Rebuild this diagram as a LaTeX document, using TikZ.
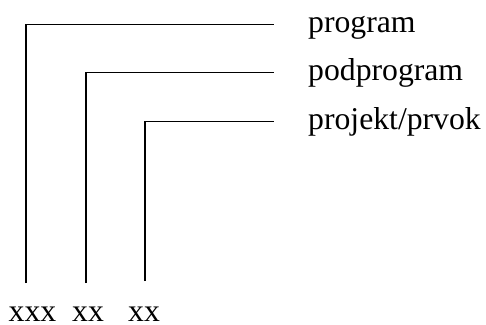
\documentclass[tikz,border=0pt]{standalone}
\usepackage{fontspec}
\setmainfont{Liberation Serif}
\tikzset {
    level line/.style = {line width = 1.3pt},
    level label/.style = {
        anchor = west, inner ysep = 0pt, inner xsep = 34pt,
        text height = 16pt, text depth = 0pt,
        font = \fontsize{31.7}{36}\selectfont
    },
    code/.style = {
        anchor = base, inner sep = 0pt,
        font = \fontsize{31.7}{36}\selectfont
    }
}
\begin{document}
\begin{tikzpicture}[x = 1pt, y = -1pt]
            \useasboundingbox (0, 0) rectangle (486, 324);
            \node (prog) [level label] at (274, 24.7) {program};
            \node (podprog) [level label] at (274, 72.3) {podprogram};
            \node (proj) [level label] at (274, 121.7) {projekt/prvok};
            \node (xxx) [code] at (32.5, 321) {xxx};
            \node (xxa) [code] at (88, 321) {xx};
            \node (xxb) [code] at (144, 321) {xx};
            \coordinate (b1) at (26, 283);
            \coordinate (b2) at (86, 283);
            \coordinate (b3) at (145, 281);
            \draw [level line] (b1) |- (prog.west);
            \draw [level line] (b2) |- (podprog.west);
            \draw [level line] (b3) |- (proj.west);
        \end{tikzpicture}
\end{document}
